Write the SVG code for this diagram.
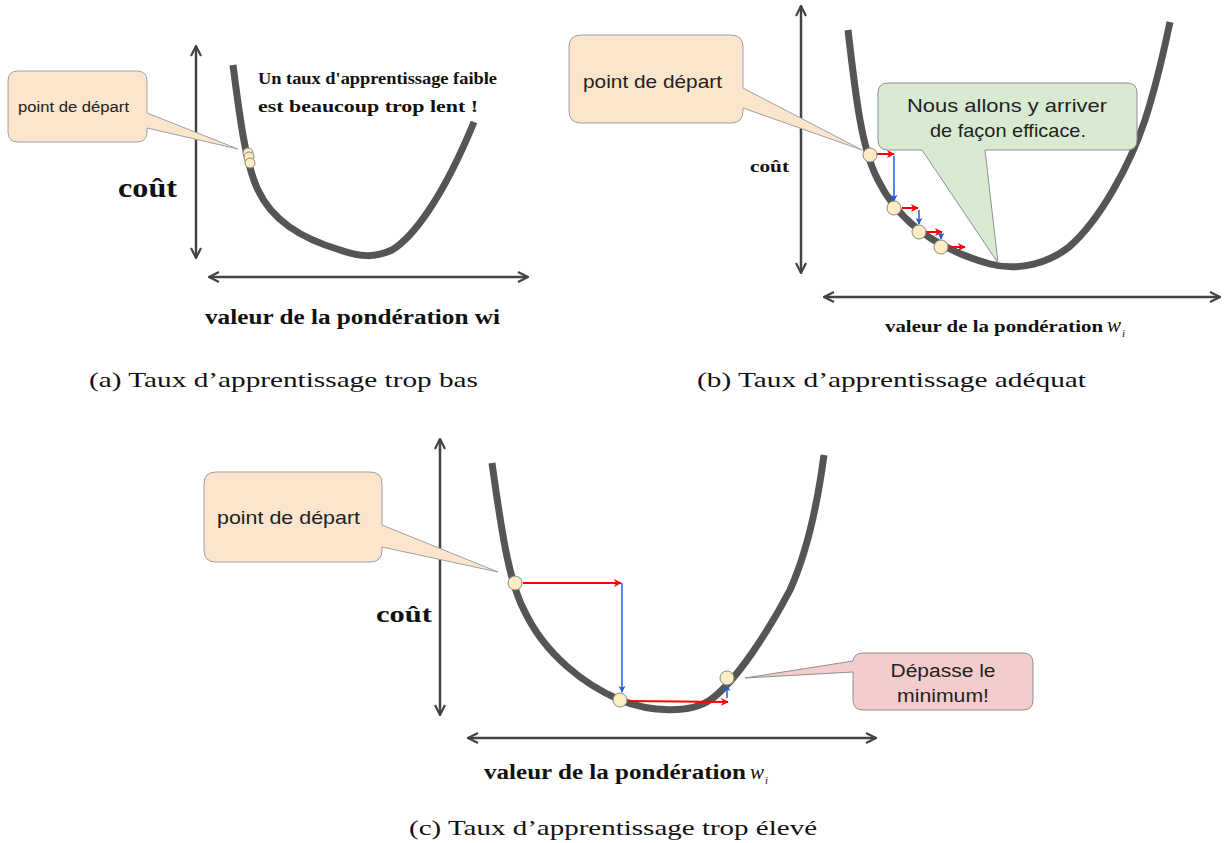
<svg xmlns="http://www.w3.org/2000/svg" width="1225" height="843" viewBox="0 0 1225 843">
<style>
.axis{stroke:#444;stroke-width:2.5;fill:none;marker-start:url(#chev);marker-end:url(#chev)}
.curve{stroke:#555;stroke-width:7;fill:none;stroke-linecap:butt;stroke-linejoin:round}
.dot{fill:#fcedc4;stroke:#8a8a80;stroke-width:1}
.peach{fill:#fce5cd;stroke:#a0a0a0;stroke-width:1}
.green{fill:#d9ead3;stroke:#8f8f8f;stroke-width:1}
.pink{fill:#f4cccc;stroke:#8f8f8f;stroke-width:1}
.red{stroke:#ff0000;stroke-width:2;fill:none;marker-end:url(#rh)}
.blue{stroke:#1a5fd6;stroke-width:1.5;fill:none;marker-end:url(#bh)}
.sans{font-family:"Liberation Sans",Arial,sans-serif;fill:#222}
.bser{font-family:"Liberation Serif","Times New Roman",serif;font-weight:bold;fill:#111}
.cap{font-family:"Liberation Serif","Times New Roman",serif;font-size:22px;fill:#111}
</style>
<defs>
<marker id="chev" viewBox="0 0 12 12" refX="11" refY="6" markerWidth="12" markerHeight="12" markerUnits="userSpaceOnUse" orient="auto-start-reverse">
<path d="M1,1 L11,6 L1,11" fill="none" stroke="#444" stroke-width="2.2"/>
</marker>
<marker id="rh" viewBox="0 0 10 10" refX="9" refY="5" markerWidth="8" markerHeight="8" markerUnits="userSpaceOnUse" orient="auto">
<path d="M0,0 L10,5 L0,10 L3,5 Z" fill="#ff0000"/>
</marker>
<marker id="bh" viewBox="0 0 10 10" refX="9" refY="5" markerWidth="7" markerHeight="7" markerUnits="userSpaceOnUse" orient="auto">
<path d="M0,0 L10,5 L0,10 L3,5 Z" fill="#1a5fd6"/>
</marker>
</defs>

<!-- Panel (a) -->
<g id="panel-a">
<line class="axis" x1="196" y1="258" x2="196" y2="46"/>
<line class="axis" x1="209" y1="277" x2="528" y2="277"/>
<path class="curve" d="M233,65 C240,120 246,165 258,190 C272,220 300,238 340,250 C360,257 375,258 392,250 C412,238 442,200 474,122"/>
<g id="a-dots">
<circle class="dot" cx="248" cy="153" r="5"/>
<circle class="dot" cx="249" cy="157" r="5"/>
<circle class="dot" cx="250" cy="163" r="5"/>
</g>
<text class="bser" x="118" y="197" font-size="28" textLength="59" lengthAdjust="spacingAndGlyphs">coût</text>
<text class="bser" x="258" y="84" font-size="16" textLength="239" lengthAdjust="spacingAndGlyphs">Un taux d'apprentissage faible</text>
<text class="bser" x="258" y="112" font-size="16" textLength="220" lengthAdjust="spacingAndGlyphs">est beaucoup trop lent !</text>
<text class="bser" x="205" y="324" font-size="20" textLength="295" lengthAdjust="spacingAndGlyphs">valeur de la pondération wi</text>
</g>
<g id="a-callout">
<path class="peach" d="M18,71 H137 Q147,71 147,81 V113 L238,149 L147,128 V132 Q147,142 137,142 H18 Q8,142 8,132 V81 Q8,71 18,71 Z"/>
<text class="sans" x="18" y="112" font-size="14" textLength="111" lengthAdjust="spacingAndGlyphs">point de départ</text>
</g>
<text class="cap" x="89" y="387" textLength="389" lengthAdjust="spacingAndGlyphs">(a) Taux d’apprentissage trop bas</text>

<!-- Panel (b) -->
<g id="panel-b">
<line class="axis" x1="801" y1="273" x2="801" y2="6"/>
<line class="axis" x1="824" y1="297" x2="1220" y2="297"/>
<path class="curve" d="M848,30 C856,100 862,150 878,180 C900,225 940,250 990,264 C1020,272 1050,262 1069,247 C1100,220 1130,165 1145,120 C1158,80 1165,45 1170,22"/>
<text class="bser" x="750" y="172" font-size="16" textLength="39" lengthAdjust="spacingAndGlyphs">coût</text>
<text class="bser" x="885" y="332" font-size="17" textLength="218" lengthAdjust="spacingAndGlyphs">valeur de la pondération</text>
<text x="1107" y="332" font-family="Liberation Serif, serif" font-style="italic" font-size="21" fill="#111">w</text>
<text x="1122" y="337" font-family="Liberation Serif, serif" font-style="italic" font-size="11" fill="#111">i</text>
</g>
<g id="b-steps">
<line class="red" x1="877" y1="154" x2="894" y2="154"/>
<line class="blue" x1="894" y1="156" x2="894" y2="201"/>
<line class="red" x1="902" y1="208" x2="918" y2="208"/>
<line class="blue" x1="919" y1="210" x2="919" y2="224"/>
<line class="red" x1="926" y1="232" x2="942" y2="232"/>
<line class="blue" x1="941" y1="233" x2="941" y2="239"/>
<line class="red" x1="948" y1="247" x2="965" y2="247"/>
<circle class="dot" cx="870" cy="155" r="7"/>
<circle class="dot" cx="894" cy="208" r="7"/>
<circle class="dot" cx="919" cy="232" r="7"/>
<circle class="dot" cx="941" cy="247" r="7"/>
</g>
<g id="b-start-callout">
<path class="peach" d="M581,35 H731 Q743,35 743,47 V88 L862,150 L743,108 V111 Q743,123 731,123 H581 Q569,123 569,111 V47 Q569,35 581,35 Z"/>
<text class="sans" x="583" y="88" font-size="19" textLength="139" lengthAdjust="spacingAndGlyphs">point de départ</text>
</g>
<g id="b-green-callout">
<path class="green" d="M888,83 H1127 Q1137,83 1137,93 V140 Q1137,150 1127,150 H985 L998,263 L922,150 H888 Q878,150 878,140 V93 Q878,83 888,83 Z"/>
<text class="sans" x="1007" y="112" font-size="19" text-anchor="middle" textLength="200" lengthAdjust="spacingAndGlyphs">Nous allons y arriver</text>
<text class="sans" x="1008" y="137" font-size="19" text-anchor="middle" textLength="156" lengthAdjust="spacingAndGlyphs">de façon efficace.</text>
</g>
<text class="cap" x="697" y="387" textLength="389" lengthAdjust="spacingAndGlyphs">(b) Taux d’apprentissage adéquat</text>

<!-- Panel (c) -->
<g id="panel-c">
<line class="axis" x1="440" y1="715" x2="440" y2="439"/>
<line class="axis" x1="468" y1="738" x2="876" y2="738"/>
<path class="curve" d="M492,463 C500,520 508,580 524,610 C545,655 585,685 620,700 C650,712 690,714 710,700 C735,683 768,632 790,590 C808,550 818,500 824,455"/>
<text class="bser" x="376" y="622" font-size="24" textLength="56" lengthAdjust="spacingAndGlyphs">coût</text>
<text class="bser" x="484" y="779" font-size="20" textLength="262" lengthAdjust="spacingAndGlyphs">valeur de la pondération</text>
<text x="750" y="779" font-family="Liberation Serif, serif" font-style="italic" font-size="21" fill="#111">w</text>
<text x="765" y="784" font-family="Liberation Serif, serif" font-style="italic" font-size="11" fill="#111">i</text>
</g>
<g id="c-steps">
<line class="red" x1="523" y1="583" x2="621" y2="583"/>
<line class="blue" x1="622" y1="583" x2="622" y2="692"/>
<line class="red" x1="628" y1="701" x2="728" y2="702"/>
<line class="blue" x1="727" y1="698" x2="727" y2="685"/>
<circle class="dot" cx="515" cy="583" r="7"/>
<circle class="dot" cx="620" cy="700" r="7"/>
<circle class="dot" cx="727" cy="678" r="7"/>
</g>
<g id="c-start-callout">
<path class="peach" d="M216,472 H370 Q382,472 382,484 V525 L498,572 L382,547 V550 Q382,562 370,562 H216 Q204,562 204,550 V484 Q204,472 216,472 Z"/>
<text class="sans" x="217" y="524" font-size="19" textLength="143" lengthAdjust="spacingAndGlyphs">point de départ</text>
</g>
<g id="c-overshoot-callout">
<path class="pink" d="M863,653 H1023 Q1033,653 1033,663 V700 Q1033,710 1023,710 H863 Q853,710 853,700 V672 L745,678 L853,661 Q854,653 863,653 Z"/>
<text class="sans" x="943" y="677" font-size="18" text-anchor="middle" textLength="105" lengthAdjust="spacingAndGlyphs">Dépasse le</text>
<text class="sans" x="943" y="702" font-size="18" text-anchor="middle" textLength="92" lengthAdjust="spacingAndGlyphs">minimum!</text>
</g>
<text class="cap" x="409" y="835" textLength="408" lengthAdjust="spacingAndGlyphs">(c) Taux d’apprentissage trop élevé</text>
</svg>
